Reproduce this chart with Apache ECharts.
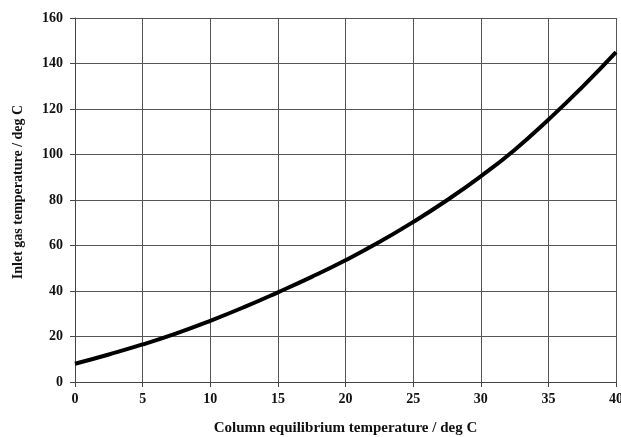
<!DOCTYPE html>
<html>
<head>
<meta charset="utf-8">
<script src="https://cdn.jsdelivr.net/npm/echarts@6/dist/echarts.min.js"></script>
<style>
html,body{margin:0;padding:0;background:#fff;}
#chart{width:621px;height:437px;}
</style>
</head>
<body>
<div id="chart"></div>
<script>
var xValues = [0, 2.5, 5, 7.5, 10, 12.5, 15, 17.5, 20, 22.5, 25, 27.5, 30, 32.5, 35, 37.5, 40];
var yValues = [8, 12.1, 16.5, 21.4, 26.9, 32.9, 39.4, 46.2, 53.5, 61.5, 70.3, 79.9, 90.4, 102, 115.3, 129.6, 145];
var xTitle = 'Column equilibrium temperature / deg C';
var yTitle = 'Inlet gas temperature / deg C';

var chart = echarts.init(document.getElementById('chart'));
var font = '"Liberation Serif", "Times New Roman", serif';
var data = xValues.map(function (x, i) { return [x, yValues[i]]; });
chart.setOption({
  animation: false,
  grid: { left: 75, top: 18, right: 5, bottom: 55, containLabel: false, outerBoundsMode: 'none' },
  xAxis: {
    type: 'value', min: 0, max: 40, interval: 5,
    name: xTitle, nameLocation: 'middle', nameGap: 39,
    nameTextStyle: { fontFamily: font, fontWeight: 'bold', fontSize: 15, color: '#111' },
    axisLine: { show: true, lineStyle: { color: '#444', width: 1 } },
    axisTick: { show: true, inside: false, length: 5, lineStyle: { color: '#444' } },
    axisLabel: { fontFamily: font, fontWeight: 'bold', fontSize: 14, color: '#111', margin: 10 },
    splitLine: { show: true, lineStyle: { color: '#555', width: 1 } }
  },
  yAxis: {
    type: 'value', min: 0, max: 160, interval: 20,
    name: yTitle, nameLocation: 'middle', nameGap: 50, nameRotate: 90,
    nameTextStyle: { fontFamily: font, fontWeight: 'bold', fontSize: 14, color: '#111', padding: [0, 0, 0, 16] },
    axisLine: { show: true, lineStyle: { color: '#444', width: 1 } },
    axisTick: { show: true, inside: false, length: 5, lineStyle: { color: '#444' } },
    axisLabel: { fontFamily: font, fontWeight: 'bold', fontSize: 14, color: '#111', margin: 12 },
    splitLine: { show: true, lineStyle: { color: '#555', width: 1 } }
  },
  series: [{
    type: 'line', data: data, smooth: true, showSymbol: false,
    lineStyle: { color: '#000', width: 4 }
  }]
});
</script>
</body>
</html>
